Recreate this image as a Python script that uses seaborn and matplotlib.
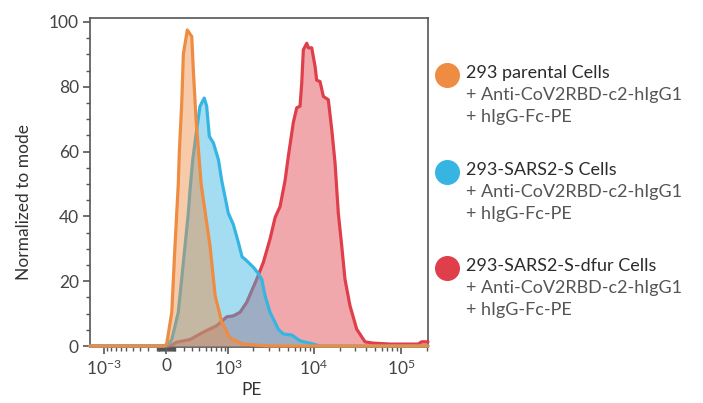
import numpy as np
import matplotlib
matplotlib.use('Agg')
import matplotlib.pyplot as plt
import seaborn as sns
from matplotlib.lines import Line2D

# ==============================================================================
# DATA (PE intensity vs. % of mode)
# ==============================================================================
pe_parental = [-1468, -20, 7, 61, 96, 132, 144, 171, 190, 237, 294, 315, 352,
               427, 577, 679, 828, 1048, 1508, 3000, 204700]
pct_parental = [0, 0, 0.6, 10.4, 31, 50, 60, 75, 90, 97.5, 95.5, 85, 70,
                50, 31, 15.5, 7.4, 2.5, 0.6, 0, 0]

pe_spike = [-1468, 0, 21, 61, 132, 190, 250, 271, 307, 362, 410, 477, 518, 565,
            642, 750, 828, 1000, 1152, 1325, 1468, 1592, 1996, 2264, 2500, 2732,
            3120, 3892, 4444, 5556, 6924, 9840, 11760, 204700]
pct_spike = [0, 0, 0.3, 2, 10.4, 25.8, 41, 48, 57.5, 66.8, 74, 76.5, 74, 64.7,
             62.7, 57.5, 51, 41, 37.5, 32, 27.5, 26.8, 24.3, 22.5, 20.6, 15.5,
             10.4, 5.2, 3.7, 3.4, 1.6, 0.6, 0, 0]

pe_dfur = [-1468, 0, 42, 115, 271, 463, 715, 956, 1152, 1388, 1668, 2184, 2608,
           3120, 3576, 4072, 4652, 5076, 5800, 6348, 6924, 7240, 7560, 8280, 8640,
           9440, 10320, 10760, 11760, 12840, 14640, 16040, 17480, 19080, 20880,
           22760, 26000, 31040, 38680, 47760, 74880, 157200, 173200, 198000, 204700]
pct_dfur = [0, 0, 0, 1.2, 2, 4.3, 6.3, 9, 9.3, 10.4, 13.5, 20.6, 25.8,
            33, 39.7, 43, 51, 58.5, 69, 73.5, 74, 81, 91.4, 93.4, 92,
            92, 86.2, 82, 81.6, 77, 76, 66.8, 56.6, 41, 30.9,
            20.6, 12.4, 5.2, 1.3, 0.9, 0.6, 0.6, 1.3, 1.3, 1.3]

x_ticks = [-1000, 0, 1000, 10000, 100000]
x_ticklabels = [r'$10^{-3}$', '0', r'$10^{3}$', r'$10^{4}$', r'$10^{5}$']

legend_titles = ['293 parental Cells', '293-SARS2-S Cells', '293-SARS2-S-dfur Cells']
legend_sub = ['+ Anti-CoV2RBD-c2-hIgG1', '+ hIgG-Fc-PE']

colors = {'parental': '#EE8C42', 'spike': '#37B5E2', 'dfur': '#DF3F4B'}

# ==============================================================================
# STYLE
# ==============================================================================
sns.set_theme(style='ticks')
plt.rcParams['font.family'] = ['Lato', 'DejaVu Sans']
plt.rcParams['mathtext.fontset'] = 'custom'
plt.rcParams['mathtext.rm'] = 'Lato'
plt.rcParams['mathtext.it'] = 'Lato:italic'
plt.rcParams['mathtext.bf'] = 'Lato:bold'
plt.rcParams['mathtext.default'] = 'rm'

W = 400.0  # biexponential-ish width


def fwd(x):
    return np.arcsinh(np.asarray(x, dtype=float) / W)


def inv(u):
    return W * np.sinh(u)


fig = plt.figure(figsize=(7.03, 4.03), dpi=100)
ax = fig.add_axes([90 / 703, 1 - 347 / 403, (428 - 90) / 703, (347 - 18) / 403])
ax.set_xscale('function', functions=(fwd, inv))

series = [
    (pe_dfur, pct_dfur, colors['dfur']),
    (pe_spike, pct_spike, colors['spike']),
    (pe_parental, pct_parental, colors['parental']),
]
for k, (xs, ys, c) in enumerate(series):
    ax.fill_between(xs, ys, 0, color=c, alpha=0.45, lw=0, zorder=3 + 2 * k)
    sns.lineplot(x=xs, y=ys, sort=False, estimator=None, color=c, lw=2.3, ax=ax,
                 zorder=4 + 2 * k, clip_on=False)

ax.set_xlim(-1468, 204700)
ax.set_ylim(-0.3, 101.2)

# ticks
ax.set_xticks(x_ticks)
ax.set_xticklabels(x_ticklabels)
minor = [-k * 100 for k in range(1, 10)] + [-k * 10 for k in range(1, 10)]
for n in range(1, 5):
    minor += [k * 10 ** n for k in range(1 if n < 3 else 2, 10)]
minor += [200000]
ax.set_xticks([m for m in minor if m not in x_ticks], minor=True)
ax.set_yticks(range(0, 101, 20))
ax.set_yticks(range(0, 101, 5), minor=True)

ax.tick_params(axis='both', which='major', length=5, width=1.2, color='#555555',
               labelsize=12.5, labelcolor='#444444', pad=3)
ax.tick_params(axis='both', which='minor', length=3, width=1.0, color='#555555')

for s in ax.spines.values():
    s.set_color('#555555')
    s.set_linewidth(1.2)

ax.set_xlabel('PE', fontsize=12.5, color='#333333')
ax.set_ylabel('Normalized to mode', fontsize=12.5, color='#333333')
ax.xaxis.set_label_coords(0.479, -0.105)
ax.yaxis.set_label_coords(-0.172, 0.44)

# ==============================================================================
# LEGEND (drawn by hand, three-line entries)
# ==============================================================================
entry_y = [73, 170, 266]
for title, c, y0 in zip(legend_titles, [colors['parental'], colors['spike'], colors['dfur']], entry_y):
    fig.add_artist(Line2D([447 / 703], [1 - (y0 + 2) / 403], marker='o', ms=17,
                          color=c, lw=0, transform=fig.transFigure))
    fig.text(466 / 703, 1 - y0 / 403, title, fontsize=13, color='#2b2b2b', va='center')
    for i, sub in enumerate(legend_sub):
        fig.text(466 / 703, 1 - (y0 + 22 * (i + 1)) / 403, sub, fontsize=13,
                 color='#555555', va='center')

fig.savefig('out.png', dpi=100)
